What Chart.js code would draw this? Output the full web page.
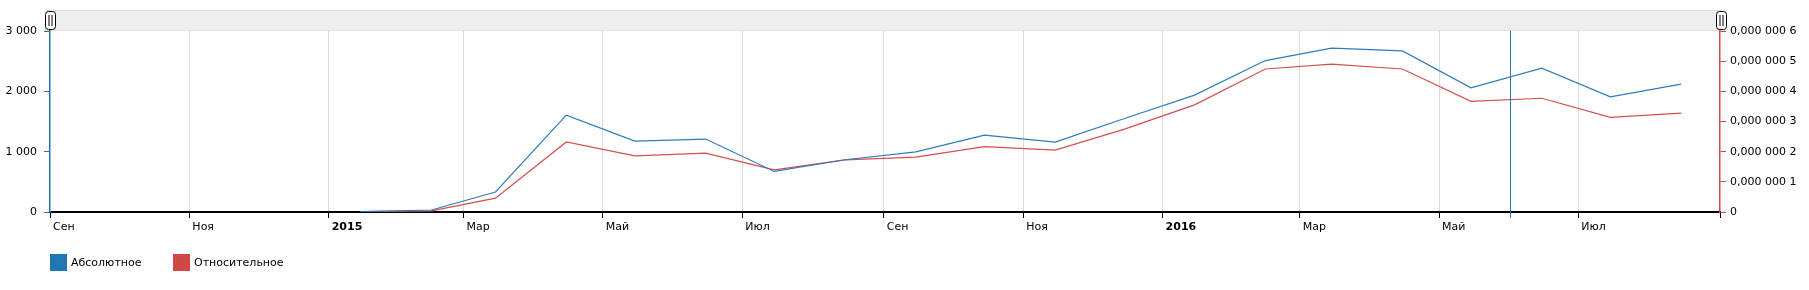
<!DOCTYPE html>
<html><head><meta charset="utf-8">
<script src="https://cdn.jsdelivr.net/npm/chart.js@4.4.1/dist/chart.umd.min.js"></script>
<style>html,body{margin:0;padding:0;background:#fff}#wrap{width:1809px;height:290px;position:relative}</style>
</head><body><div id="wrap"><canvas id="c" width="1809" height="290"></canvas></div>
<script>
// ---- data ----
const dates = ['2015-01-15','2015-02-15','2015-03-15','2015-04-15','2015-05-15','2015-06-15','2015-07-15','2015-08-15','2015-09-15','2015-10-15','2015-11-15','2015-12-15','2016-01-15','2016-02-15','2016-03-15','2016-04-15','2016-05-15','2016-06-15','2016-07-15','2016-08-15'];
const absoluteValues = [5, 33, 331, 1606, 1175, 1209, 672, 866, 998, 1275, 1159, 1545, 1937, 2510, 2715, 2670, 2058, 2384, 1909, 2119];
const relativeValues = [1e-9, 4e-9, 4.6e-8, 2.32e-7, 1.86e-7, 1.95e-7, 1.40e-7, 1.73e-7, 1.82e-7, 2.17e-7, 2.05e-7, 2.74e-7, 3.55e-7, 4.74e-7, 4.90e-7, 4.74e-7, 3.67e-7, 3.77e-7, 3.14e-7, 3.28e-7];
const seriesNames = ['Абсолютное', 'Относительное'];
const monthNames = ['Янв','Фев','Мар','Апр','Май','Июн','Июл','Авг','Сен','Окт','Ноя','Дек'];
const xTickDates = ['2014-09-01','2014-11-01','2015-01-01','2015-03-01','2015-05-01','2015-07-01','2015-09-01','2015-11-01','2016-01-01','2016-03-01','2016-05-01','2016-07-01','2016-09-01'];
const xRange = ['2014-09-01','2016-09-01'];
const guideDate = '2016-06-01';
const leftTicks = [0, 1000, 2000, 3000];
const rightTicks = [0, 1e-7, 2e-7, 3e-7, 4e-7, 5e-7, 6e-7];

// ---- helpers ----
const day = s => Date.UTC(+s.slice(0,4), +s.slice(5,7)-1, +s.slice(8,10)) / 864e5;
const BLUE = '#1f77b4', RED = '#cf4747';
const FONT = 'DejaVu Sans';
const fmtLeft = v => String(Math.round(v)).replace(/\B(?=(\d{3})+(?!\d))/g, ' ');
const fmtRight = v => { const n = Math.round(v * 1e7); return n === 0 ? '0' : '0,000 000 ' + n; };
const tickDate = v => new Date(Math.round(v) * 864e5);
const isYearTick = v => tickDate(v).getUTCMonth() === 0;
const lastTick = day(xTickDates[xTickDates.length - 1]);

const decor = {
  id: 'decor',
  beforeDraw(chart) {
    const ctx = chart.ctx, a = chart.chartArea;
    ctx.save();
    // scrollbar band
    ctx.fillStyle = '#eeeeee';
    ctx.fillRect(a.left - 5, 10, a.right - a.left + 10, 21);
    ctx.fillStyle = '#e0e0e0';
    ctx.fillRect(a.left - 5, 10, a.right - a.left + 10, 1);
    ctx.fillRect(a.left - 5, 30, a.right - a.left + 10, 1);
    ctx.restore();
  },
  afterDraw(chart) {
    const ctx = chart.ctx, a = chart.chartArea, xs = chart.scales.x;
    ctx.save();
    // guide line
    const gx = Math.round(xs.getPixelForValue(day(guideDate))) + 0.5;
    ctx.strokeStyle = BLUE; ctx.lineWidth = 1;
    ctx.beginPath(); ctx.moveTo(gx, a.top); ctx.lineTo(gx, a.bottom + 6); ctx.stroke();
    // scrollbar handles
    [a.left - 5, a.right - 4].forEach(hx => {
      ctx.fillStyle = '#fff'; ctx.strokeStyle = '#000'; ctx.lineWidth = 1;
      ctx.beginPath(); ctx.roundRect(hx + 0.5, 11.5, 10, 18, 3); ctx.fill(); ctx.stroke();
      ctx.beginPath();
      ctx.moveTo(hx + 4, 15); ctx.lineTo(hx + 4, 26);
      ctx.moveTo(hx + 7, 15); ctx.lineTo(hx + 7, 26);
      ctx.stroke();
    });
    // legend
    ctx.font = '11px "' + FONT + '"';
    ctx.textBaseline = 'middle';
    ctx.textAlign = 'left';
    const items = [[BLUE, seriesNames[0], 50], [RED, seriesNames[1], 173]];
    items.forEach(([c, t, lx]) => {
      ctx.fillStyle = c; ctx.fillRect(lx, 254, 17, 17);
      ctx.fillStyle = '#000'; ctx.fillText(t, lx + 21, 263);
    });
    ctx.restore();
  }
};

new Chart(document.getElementById('c'), {
  type: 'line',
  data: {
    datasets: [
      { label: seriesNames[0], data: dates.map((d, i) => ({ x: day(d), y: absoluteValues[i] })),
        borderColor: '#2f7bbb', borderWidth: 1.2, pointRadius: 0, tension: 0, yAxisID: 'y', fill: false },
      { label: seriesNames[1], data: dates.map((d, i) => ({ x: day(d), y: relativeValues[i] })),
        borderColor: '#d64e4e', borderWidth: 1.2, pointRadius: 0, tension: 0, yAxisID: 'y1', fill: false }
    ]
  },
  options: {
    responsive: false, animation: false, devicePixelRatio: 1,
    layout: { padding: { top: 31, left: 0, right: 0, bottom: 0 } },
    plugins: { legend: { display: false }, tooltip: { enabled: false } },
    scales: {
      x: {
        type: 'linear', min: day(xRange[0]), max: day(xRange[1]), offset: false,
        afterBuildTicks: s => { s.ticks = xTickDates.map(d => ({ value: day(d) })); },
        afterFit: s => { s.height = 78; },
        ticks: {
          autoSkip: false, maxRotation: 0, minRotation: 0, align: 'start', labelOffset: 3, padding: 3, color: '#000',
          font: ctx => ({ family: FONT, size: 11, weight: (ctx.tick && isYearTick(ctx.tick.value)) ? 'bold' : 'normal' }),
          callback: v => {
            if (Math.round(v) === lastTick) return '';
            const d = tickDate(v);
            return d.getUTCMonth() === 0 ? String(d.getUTCFullYear()) : monthNames[d.getUTCMonth()];
          }
        },
        grid: {
          color: ctx => (ctx.index === 0 || ctx.index === xTickDates.length - 1) ? 'rgba(0,0,0,0)' : '#dadada',
          tickColor: '#000', tickLength: 6, lineWidth: 1, drawOnChartArea: true
        },
        border: { color: '#000', width: 2 }
      },
      y: {
        position: 'left', min: 0, max: 3000,
        afterBuildTicks: s => { s.ticks = leftTicks.map(v => ({ value: v })); },
        afterFit: s => { s.width = 50; },
        ticks: { color: '#000', padding: 7, font: { family: FONT, size: 11 }, callback: v => fmtLeft(v) },
        grid: { drawOnChartArea: false, tickLength: 6, color: BLUE, tickColor: BLUE },
        border: { color: BLUE, width: 1.5 }
      },
      y1: {
        position: 'right', min: 0, max: 6e-7,
        afterBuildTicks: s => { s.ticks = rightTicks.map(v => ({ value: v })); },
        afterFit: s => { s.width = 89; },
        ticks: { color: '#000', padding: 4, font: { family: FONT, size: 11 }, callback: v => fmtRight(v) },
        grid: { drawOnChartArea: false, tickLength: 6, color: RED, tickColor: RED },
        border: { color: RED, width: 1.5 }
      }
    }
  },
  plugins: [decor]
});
</script>
</body></html>
